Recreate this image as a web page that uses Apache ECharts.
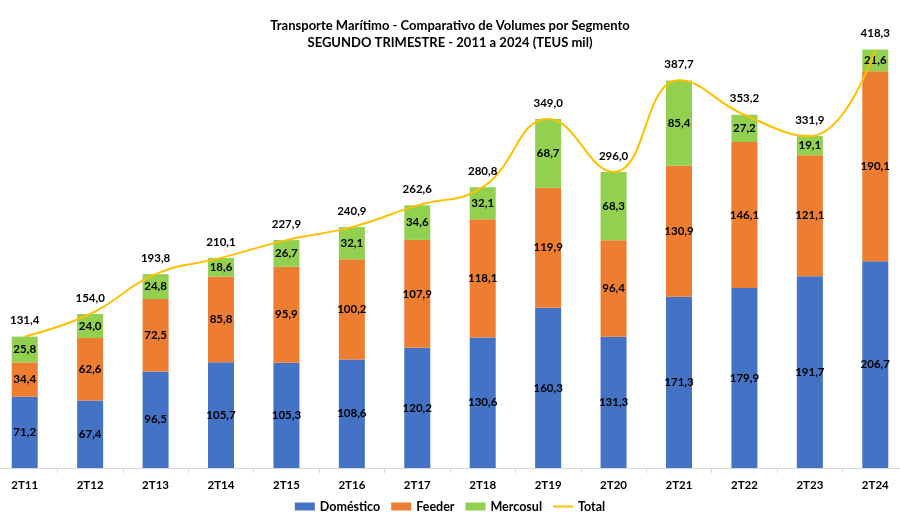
<!DOCTYPE html>
<html>
<head>
<meta charset="utf-8">
<script src="https://cdn.jsdelivr.net/npm/echarts@6/dist/echarts.min.js"></script>
<style>html,body{margin:0;padding:0;background:#fff}#c{width:900px;height:530px}</style>
</head>
<body>
<div id="c"></div>
<script>
var categories = ['2T11','2T12','2T13','2T14','2T15','2T16','2T17','2T18','2T19','2T20','2T21','2T22','2T23','2T24'];
var domestico = [71.2, 67.4, 96.5, 105.7, 105.3, 108.6, 120.2, 130.6, 160.3, 131.3, 171.3, 179.9, 191.7, 206.7];
var feeder = [34.4, 62.6, 72.5, 85.8, 95.9, 100.2, 107.9, 118.1, 119.9, 96.4, 130.9, 146.1, 121.1, 190.1];
var mercosul = [25.8, 24.0, 24.8, 18.6, 26.7, 32.1, 34.6, 32.1, 68.7, 68.3, 85.4, 27.2, 19.1, 21.6];
var total = [131.4, 154.0, 193.8, 210.1, 227.9, 240.9, 262.6, 280.8, 349.0, 296.0, 387.7, 353.2, 331.9, 418.3];

var FONT = 'Lato, "Open Sans", sans-serif';
function fmt(p){ return Number(p.value).toFixed(1).replace('.', ','); }
var barLabel = { show: true, position: 'inside', formatter: fmt, color: '#000', fontWeight: 'bold', fontSize: 11.5, fontFamily: FONT };

var chart = echarts.init(document.getElementById('c'));
chart.setOption({
  animation: false,
  textStyle: { fontFamily: FONT },
  title: {
    text: 'Transporte Marítimo - Comparativo de Volumes por Segmento\nSEGUNDO TRIMESTRE - 2011 a 2024 (TEUS mil)',
    left: 'center', top: 12,
    textStyle: { fontSize: 13, fontWeight: 'bold', color: '#000', lineHeight: 17, fontFamily: FONT }
  },
  legend: {
    bottom: 12, left: 'center', itemGap: 11, itemWidth: 20, itemHeight: 8,
    textStyle: { fontSize: 12.5, fontWeight: 'bold', color: '#000', fontFamily: FONT },
    data: [
      { name: 'Doméstico', icon: 'rect' },
      { name: 'Feeder', icon: 'rect' },
      { name: 'Mercosul', icon: 'rect' },
      { name: 'Total', icon: 'path://M0,0 L20,0 L20,2 L0,2 Z', itemStyle: { color: '#FFC000' } }
    ]
  },
  grid: { left: -8, right: -8, top: 18, bottom: 62, containLabel: false, outerBoundsMode: 'none' },
  xAxis: {
    type: 'category', data: categories,
    axisLine: { lineStyle: { color: '#d9d9d9' } },
    axisTick: { show: true, length: 5, lineStyle: { color: '#d9d9d9' } },
    axisLabel: { color: '#000', fontWeight: 'bold', fontSize: 11.5, margin: 11, fontFamily: FONT }
  },
  yAxis: { type: 'value', min: 0, max: 450, show: false, splitLine: { show: false } },
  series: [
    { name: 'Doméstico', type: 'bar', stack: 's', data: domestico, barWidth: 26, itemStyle: { color: '#4472C4' }, label: barLabel },
    { name: 'Feeder', type: 'bar', stack: 's', data: feeder, itemStyle: { color: '#ED7D31' }, label: barLabel },
    { name: 'Mercosul', type: 'bar', stack: 's', data: mercosul, itemStyle: { color: '#92D050' }, label: barLabel },
    { name: 'Total', type: 'line', data: total, smooth: 0.45, symbol: 'circle', symbolSize: 0.1, showSymbol: true, z: 5,
      lineStyle: { color: '#FFC000', width: 2 }, itemStyle: { color: '#FFC000' },
      label: { show: true, position: 'top', distance: 10, formatter: fmt, color: '#000', fontWeight: 'bold', fontSize: 11.5, fontFamily: FONT } }
  ]
});
</script>
</body>
</html>
